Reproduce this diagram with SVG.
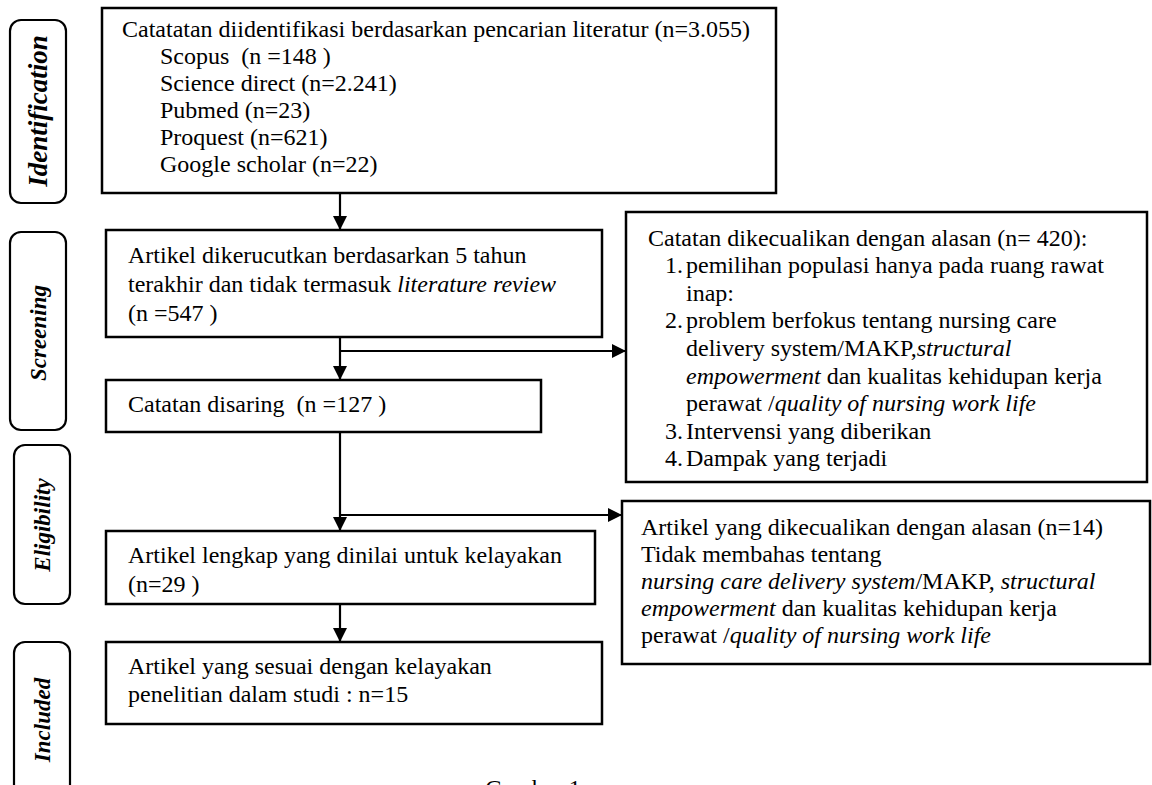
<svg xmlns="http://www.w3.org/2000/svg" width="1152" height="785" viewBox="0 0 1152 785">
<defs>
<style>
.bx{fill:#fff;stroke:#000;stroke-width:2.5}
.lb{fill:#fff;stroke:#000;stroke-width:2.2}
.t{font-family:"Liberation Serif","Times New Roman",serif;font-size:24px;fill:#000;white-space:pre}
.i{font-style:italic}
.s{font-family:"Liberation Serif","Times New Roman",serif;font-size:23px;font-weight:bold;font-style:italic;fill:#000}
.ln{fill:none;stroke:#000;stroke-width:2.2}
</style>
<marker id="ah" viewBox="0 0 14 14" refX="14" refY="7" markerWidth="14" markerHeight="14" markerUnits="userSpaceOnUse" orient="auto">
<path d="M0,0 L14,7 L0,14 Z" fill="#000"/>
</marker>
</defs>
<rect width="1152" height="785" fill="#fff"/>

<g id="stage-identification">
<rect class="lb" x="10" y="20" width="56" height="183" rx="11"/>
<text class="s" x="0" y="0" text-anchor="middle" transform="translate(47,111) rotate(-90)" style="font-size:27px">Identification</text>
</g>
<g id="stage-screening">
<rect class="lb" x="10" y="232" width="56" height="198" rx="11"/>
<text class="s" x="0" y="0" text-anchor="middle" transform="translate(46,333) rotate(-90)">Screening</text>
</g>
<g id="stage-eligibility">
<rect class="lb" x="14" y="445" width="56" height="159" rx="11"/>
<text class="s" x="0" y="0" text-anchor="middle" transform="translate(50,525) rotate(-90)">Eligibility</text>
</g>
<g id="stage-included">
<rect class="lb" x="14" y="642" width="56" height="160" rx="11"/>
<text class="s" x="0" y="0" text-anchor="middle" transform="translate(50,720) rotate(-90)">Included</text>
</g>

<g id="connectors">
<line class="ln" x1="340" y1="193" x2="340" y2="230" marker-end="url(#ah)"/>
<line class="ln" x1="340" y1="337" x2="340" y2="380" marker-end="url(#ah)"/>
<line class="ln" x1="340" y1="351" x2="626" y2="351" marker-end="url(#ah)"/>
<line class="ln" x1="340" y1="432" x2="340" y2="531" marker-end="url(#ah)"/>
<line class="ln" x1="340" y1="515" x2="622" y2="515" marker-end="url(#ah)"/>
<line class="ln" x1="340" y1="604" x2="340" y2="642" marker-end="url(#ah)"/>
</g>

<g id="node-identified">
<rect class="bx" x="102" y="8" width="674" height="185"/>
<text class="t" x="122" y="37">Catatatan diidentifikasi berdasarkan pencarian literatur (n=3.055)</text>
<text class="t" x="160" y="64">Scopus  (n =148 )</text>
<text class="t" x="160" y="91">Science direct (n=2.241)</text>
<text class="t" x="160" y="118">Pubmed (n=23)</text>
<text class="t" x="160" y="145">Proquest (n=621)</text>
<text class="t" x="160" y="172">Google scholar (n=22)</text>
</g>

<g id="node-narrowed">
<rect class="bx" x="106" y="230" width="496" height="107"/>
<text class="t" x="128" y="263">Artikel dikerucutkan berdasarkan 5 tahun</text>
<text class="t" x="128" y="292">terakhir dan tidak termasuk <tspan class="i">literature review</tspan></text>
<text class="t" x="128" y="321">(n =547 )</text>
</g>

<g id="node-screened">
<rect class="bx" x="106" y="380" width="435" height="52"/>
<text class="t" x="128" y="412">Catatan disaring  (n =127 )</text>
</g>

<g id="node-fulltext">
<rect class="bx" x="106" y="531" width="489" height="73"/>
<text class="t" x="128" y="563">Artikel lengkap yang dinilai untuk kelayakan</text>
<text class="t" x="128" y="592">(n=29 )</text>
</g>

<g id="node-included">
<rect class="bx" x="106" y="642" width="496" height="82"/>
<text class="t" x="128" y="674">Artikel yang sesuai dengan kelayakan</text>
<text class="t" x="128" y="702">penelitian dalam studi : n=15</text>
</g>

<g id="node-excluded-records">
<rect class="bx" x="626" y="212" width="521" height="270"/>
<text class="t" x="648" y="246">Catatan dikecualikan dengan alasan (n= 420):</text>
<text class="t" x="665" y="273">1.</text><text class="t" x="686" y="273">pemilihan populasi hanya pada ruang rawat</text>
<text class="t" x="686" y="301">inap:</text>
<text class="t" x="665" y="328">2.</text><text class="t" x="686" y="328">problem berfokus tentang nursing care</text>
<text class="t" x="686" y="356">delivery system/MAKP,<tspan class="i">structural</tspan></text>
<text class="t" x="686" y="384"><tspan class="i">empowerment</tspan> dan kualitas kehidupan kerja</text>
<text class="t" x="686" y="411">perawat /<tspan class="i">quality of nursing work life</tspan></text>
<text class="t" x="665" y="439">3.</text><text class="t" x="686" y="439">Intervensi yang diberikan</text>
<text class="t" x="665" y="466">4.</text><text class="t" x="686" y="466">Dampak yang terjadi</text>
</g>

<g id="node-excluded-articles">
<rect class="bx" x="622" y="501" width="528" height="163"/>
<text class="t" x="641" y="535">Artikel yang dikecualikan dengan alasan (n=14)</text>
<text class="t" x="641" y="562">Tidak membahas tentang</text>
<text class="t" x="641" y="589"><tspan class="i">nursing care delivery system</tspan>/MAKP, <tspan class="i">structural</tspan></text>
<text class="t" x="641" y="616"><tspan class="i">empowerment</tspan> dan kualitas kehidupan kerja</text>
<text class="t" x="641" y="643">perawat /<tspan class="i">quality of nursing work life</tspan></text>
</g>

<g id="caption">
<text class="t" x="533" y="796" text-anchor="middle">Gambar 1</text>
</g>
</svg>
